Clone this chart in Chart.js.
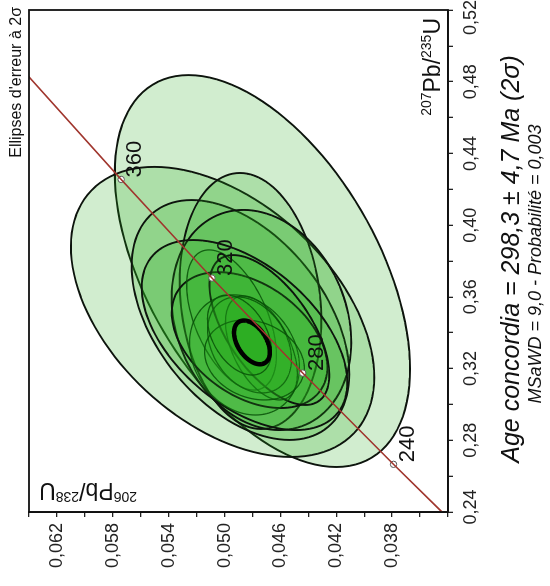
<!DOCTYPE html>
<html lang="fr">
<head>
<meta charset="utf-8">
<title>Age concordia</title>
<script src="https://cdn.jsdelivr.net/npm/chart.js@4.4.1/dist/chart.umd.min.js"></script>
<style>
  html, body { margin: 0; padding: 0; background: #fff; overflow: hidden; }
  body { width: 550px; height: 586px; position: relative; }
  /* the figure is drawn upright, then turned a quarter turn like the original page */
  #wrap { position: absolute; width: 586px; height: 550px; left: -18px; top: 18px; transform: rotate(-90deg); }
  #chart { display: block; }
</style>
</head>
<body>
<div id="wrap"><canvas id="chart" width="586" height="550"></canvas></div>
<script>
// concordia curve (207Pb/235U, 206Pb/238U)
const concX = [0.2298, 0.2666, 0.3175, 0.3705, 0.4255, 0.4974];
const concY = [0.0331, 0.0379, 0.0444, 0.0509, 0.0574, 0.0657];

// age marks on the curve (Ma)
const markAges = [240, 280, 320, 360];
const markX = [0.2666, 0.3175, 0.3705, 0.4255];
const markY = [0.0379, 0.0444, 0.0509, 0.0574];

// 2 sigma error ellipses: centre, half widths, correlation
const ellX = [0.3744, 0.3516, 0.3471, 0.3577, 0.3471, 0.3387, 0.3359, 0.3415, 0.3471, 0.3276, 0.3315, 0.3332, 0.3248, 0.3387];
const ellY = [0.04729, 0.05014, 0.04886, 0.04814, 0.04736, 0.04857, 0.04821, 0.04679, 0.04950, 0.04857, 0.04736, 0.04821, 0.04786, 0.04893];
const ellSx = [0.1093, 0.0809, 0.0669, 0.0714, 0.0614, 0.0530, 0.0379, 0.0418, 0.0391, 0.0335, 0.0290, 0.0268, 0.0223, 0.0223];
const ellSy = [0.01057, 0.01086, 0.00779, 0.00507, 0.00643, 0.00736, 0.00557, 0.00429, 0.00321, 0.00393, 0.00257, 0.00300, 0.00357, 0.00229];
const ellRho = [0.50, 0.45, 0.45, 0.15, 0.20, 0.50, 0.40, 0.60, 0.50, 0.20, 0.50, 0.30, 0.20, 0.40];

// concordia age ellipse
const ageEll = [0.3346, 0.04804, 0.0122, 0.00128, 0.45];

// labelled ticks
const xLabels = [0.24, 0.28, 0.32, 0.36, 0.40, 0.44, 0.48, 0.52];
const yLabels = [0.038, 0.042, 0.046, 0.050, 0.054, 0.058, 0.062];

const FONT = "'Liberation Sans', Arial, sans-serif";
const OUTLINED = 8; // the first ellipses get a black outline

function fmt(v, d) {
  return v.toFixed(d).replace(".", ",");
}

function pickLabel(list, v, d) {
  const i = list.findIndex((t) => Math.abs(t - v) < 1e-7);
  if (i < 0) return "";
  // end labels sit a little inside the frame, as on the original
  if (d === 2 && i === 0) return "  " + fmt(list[i], d);
  if (d === 2 && i === list.length - 1) return fmt(list[i], d) + "   ";
  return fmt(list[i], d);
}

function ellipsePath(ctx, xs, ys, cx, cy, sx, sy, rho) {
  const q = Math.sqrt(1 - rho * rho);
  ctx.beginPath();
  for (let k = 0; k <= 120; k++) {
    const t = (k / 120) * Math.PI * 2;
    const px = xs.getPixelForValue(cx + sx * Math.cos(t));
    const py = ys.getPixelForValue(cy + sy * (rho * Math.cos(t) + q * Math.sin(t)));
    if (k === 0) ctx.moveTo(px, py);
    else ctx.lineTo(px, py);
  }
  ctx.closePath();
}

function richText(ctx, parts, x, y, align) {
  const big = `23px ${FONT}`;
  const small = `14px ${FONT}`;
  let w = 0;
  parts.forEach((p) => {
    ctx.font = p.sup ? small : big;
    w += ctx.measureText(p.t).width;
  });
  let cur = align === "right" ? x - w : x;
  ctx.textAlign = "left";
  ctx.textBaseline = "alphabetic";
  parts.forEach((p) => {
    ctx.font = p.sup ? small : big;
    ctx.fillText(p.t, cur, p.sup ? y - 9 : y);
    cur += ctx.measureText(p.t).width;
  });
}

const ellipsePlugin = {
  id: "ellipses",
  beforeDatasetsDraw(chart) {
    const { ctx, chartArea: a, scales } = chart;
    ctx.save();
    ctx.beginPath();
    ctx.rect(a.left, a.top, a.right - a.left, a.bottom - a.top);
    ctx.clip();
    for (let i = 0; i < ellX.length; i++) {
      ellipsePath(ctx, scales.x, scales.y, ellX[i], ellY[i], ellSx[i], ellSy[i], ellRho[i]);
      ctx.fillStyle = "rgba(38,172,28,0.21)";
      ctx.fill();
      ctx.strokeStyle = i < OUTLINED ? "#0d140d" : "rgba(8,80,8,0.85)";
      ctx.lineWidth = i < OUTLINED ? 1.9 : 1.3;
      ctx.stroke();
    }
    const [cx, cy, sx, sy, rho] = ageEll;
    ellipsePath(ctx, scales.x, scales.y, cx, cy, sx, sy, rho);
    ctx.strokeStyle = "#000";
    ctx.lineWidth = 4.5;
    ctx.stroke();
    ctx.restore();
  },
};

const textPlugin = {
  id: "texts",
  afterDraw(chart) {
    const { ctx, chartArea: a, scales } = chart;
    ctx.save();
    ctx.strokeStyle = "#111";
    ctx.lineWidth = 1.8;
    ctx.strokeRect(a.left, a.top, a.right - a.left, a.bottom - a.top);

    ctx.fillStyle = "#111";
    ctx.font = `22px ${FONT}`;
    ctx.textAlign = "left";
    ctx.textBaseline = "alphabetic";
    markAges.forEach((age, i) => {
      const px = scales.x.getPixelForValue(markX[i]);
      const py = scales.y.getPixelForValue(markY[i]);
      ctx.fillText(String(age), px + 2, py + 20);
    });

    ctx.font = `16px ${FONT}`;
    ctx.textAlign = "right";
    ctx.fillText("Ellipses d'erreur à 2σ", 579, 21);

    richText(ctx, [{ t: "207", sup: true }, { t: "Pb/" }, { t: "235", sup: true }, { t: "U" }], 568, 440, "right");

    ctx.save();
    ctx.translate(103, 137);
    ctx.rotate(-Math.PI / 2);
    richText(ctx, [{ t: "206", sup: true }, { t: "Pb/" }, { t: "238", sup: true }, { t: "U" }], 0, 0, "left");
    ctx.restore();

    const mid = (a.left + a.right) / 2;
    ctx.textAlign = "center";
    ctx.font = `italic 25px ${FONT}`;
    ctx.fillText("Age concordia = 298,3 ± 4,7 Ma (2σ)", mid + 2, 519);
    ctx.font = `italic 18px ${FONT}`;
    ctx.fillText("MSaWD = 9,0 - Probabilité = 0,003", mid - 3, 541);
    ctx.restore();
  },
};

function axis(min, max, step, labels, digits, isX) {
  return {
    type: "linear",
    min,
    max,
    afterFit: (s) => {
      if (isX) s.height = 102;
      else s.width = 74;
      s.paddingLeft = 0;
      s.paddingRight = 0;
      s.paddingTop = 0;
      s.paddingBottom = 0;
    },
    grid: {
      display: true,
      drawOnChartArea: false,
      drawTicks: true,
      tickLength: 5,
      color: "#222",
      lineWidth: 1.3,
    },
    border: { display: true, color: "#111", width: 1.8 },
    ticks: {
      stepSize: step,
      autoSkip: false,
      maxRotation: 0,
      minRotation: 0,
      padding: isX ? 7 : 6,
      color: "#222",
      font: { family: FONT, size: 18 },
      callback: (v) => pickLabel(labels, v, digits),
    },
  };
}

document.addEventListener("DOMContentLoaded", () => {
  const canvas = document.getElementById("chart");
  new Chart(canvas, {
    type: "scatter",
    data: {
      datasets: [
        {
          label: "Concordia",
          data: concX.map((x, i) => ({ x, y: concY[i] })),
          showLine: true,
          borderColor: "#a0362e",
          borderWidth: 1.6,
          pointRadius: 0,
          tension: 0,
        },
        {
          label: "Ages",
          data: markX.map((x, i) => ({ x, y: markY[i] })),
          pointRadius: 3.2,
          pointBackgroundColor: "#fff",
          pointBorderColor: "#555",
          pointBorderWidth: 1,
        },
      ],
    },
    options: {
      responsive: false,
      animation: false,
      devicePixelRatio: 1,
      layout: { padding: { top: 29, right: 10, left: 0, bottom: 0 } },
      plugins: { legend: { display: false }, tooltip: { enabled: false } },
      scales: {
        x: axis(0.24, 0.52, 0.02, xLabels, 2, true),
        y: axis(0.034, 0.064, 0.002, yLabels, 3, false),
      },
    },
    plugins: [ellipsePlugin, textPlugin],
  });
});
</script>
</body>
</html>
